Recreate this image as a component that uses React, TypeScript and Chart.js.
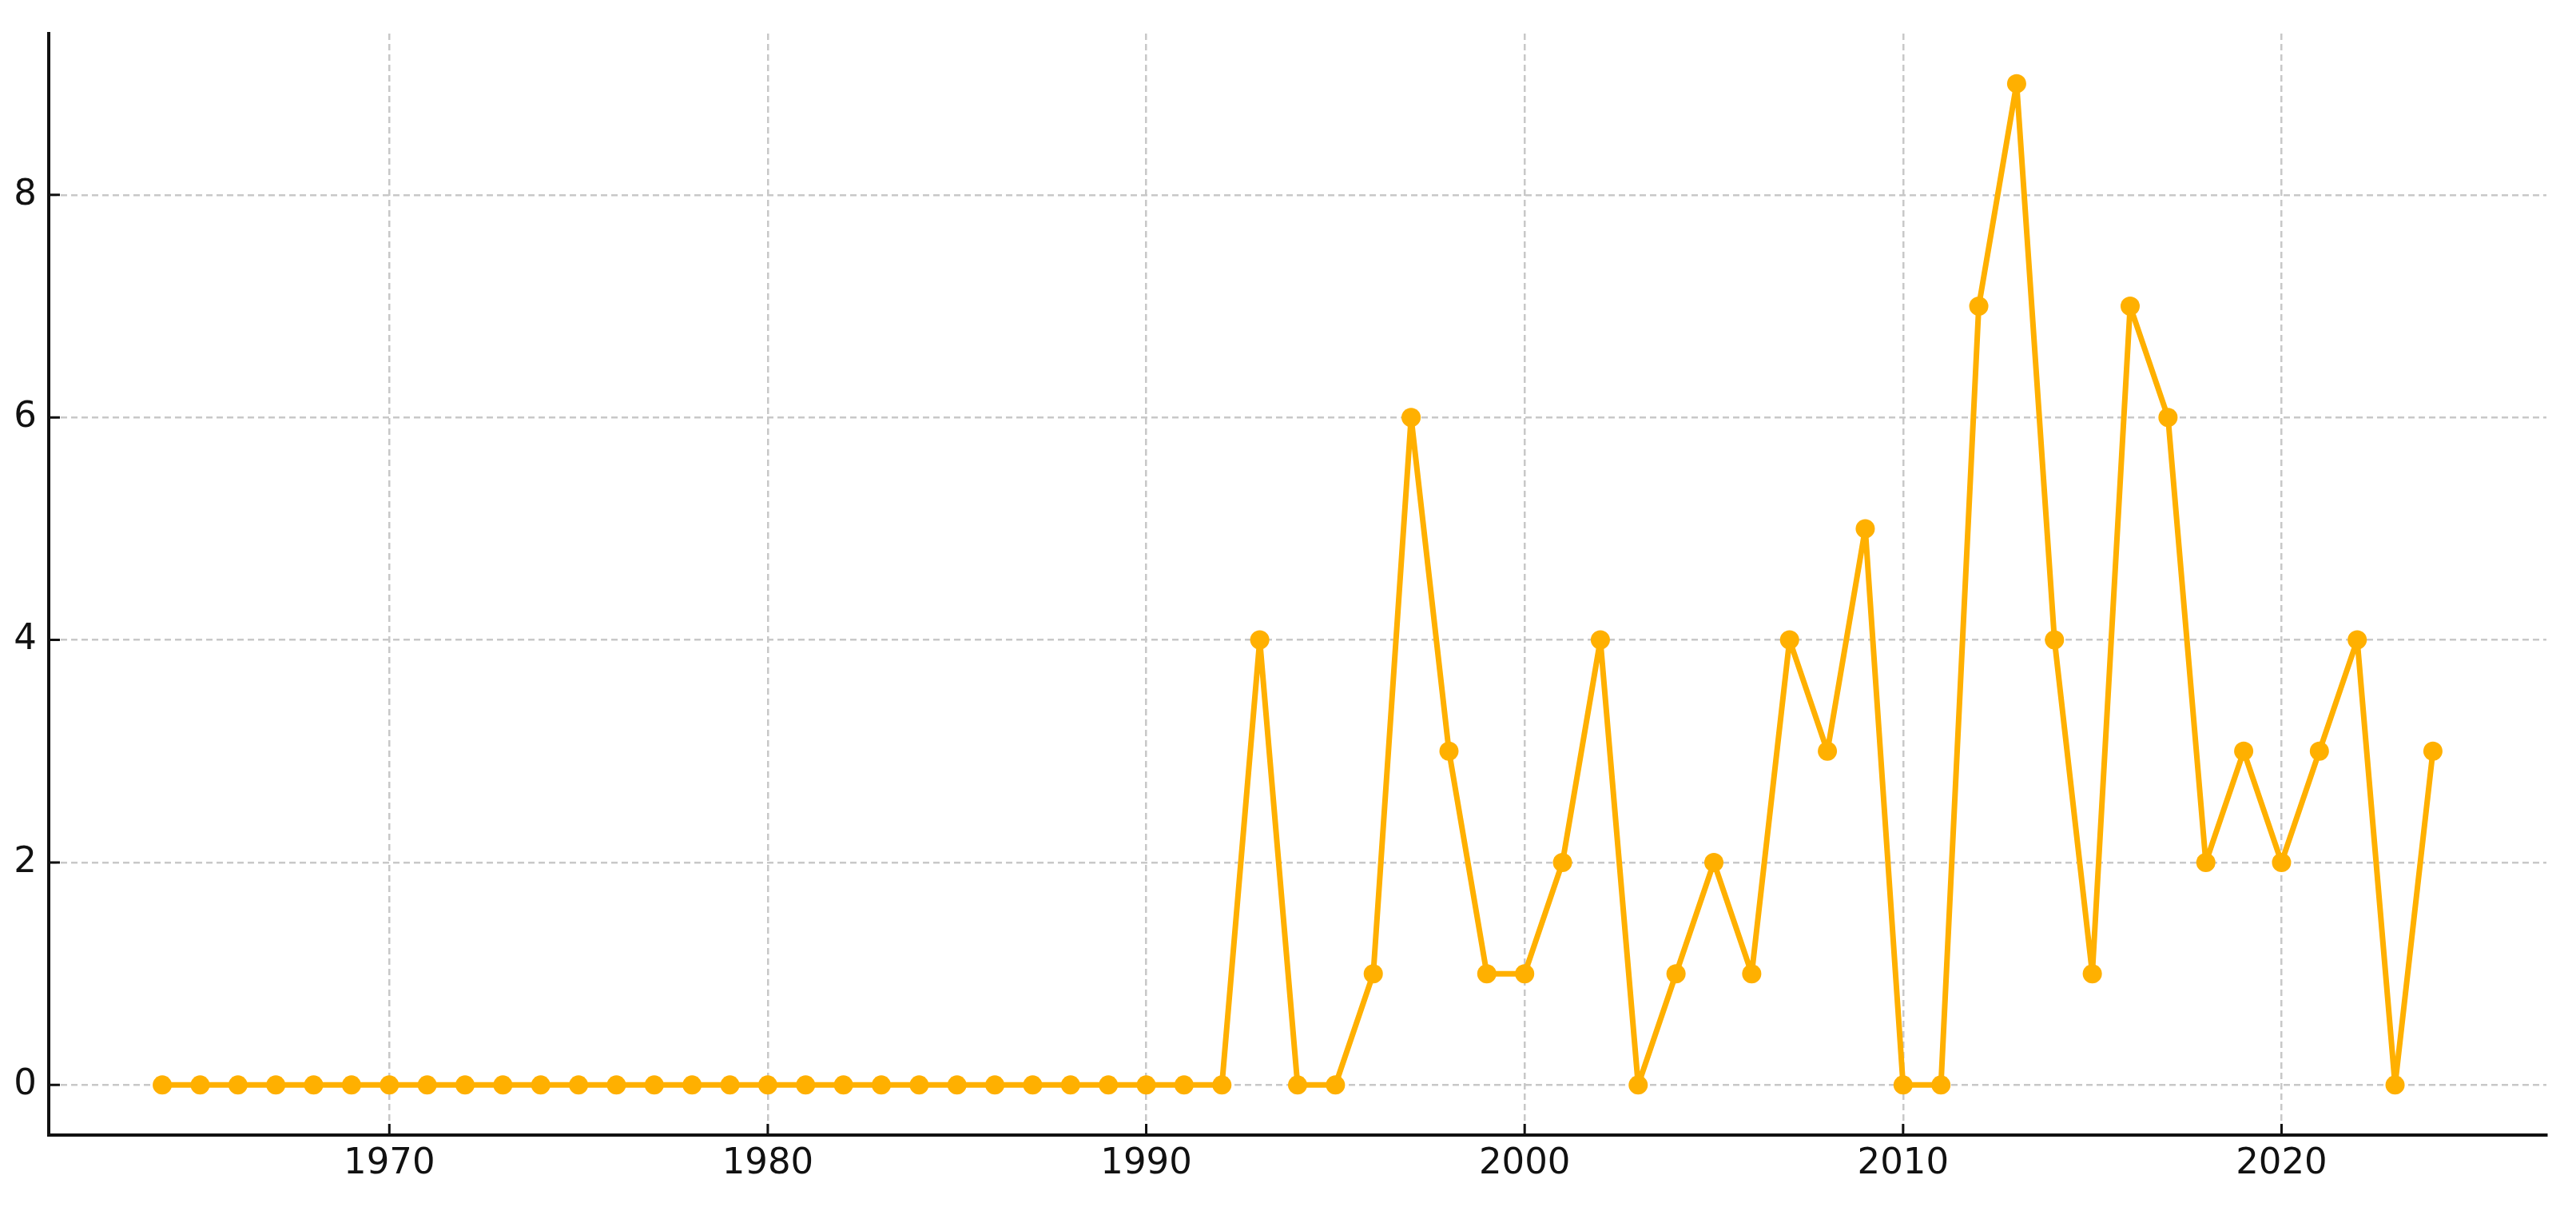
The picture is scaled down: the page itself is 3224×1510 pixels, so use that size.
import React, { useEffect, useRef } from 'react';
import { Chart, registerables } from 'chart.js';

Chart.register(...registerables);

const years = [
  1964, 1965, 1966, 1967, 1968, 1969, 1970, 1971, 1972, 1973,
  1974, 1975, 1976, 1977, 1978, 1979, 1980, 1981, 1982, 1983,
  1984, 1985, 1986, 1987, 1988, 1989, 1990, 1991, 1992, 1993,
  1994, 1995, 1996, 1997, 1998, 1999, 2000, 2001, 2002, 2003,
  2004, 2005, 2006, 2007, 2008, 2009, 2010, 2011, 2012, 2013,
  2014, 2015, 2016, 2017, 2018, 2019, 2020, 2021, 2022, 2023,
  2024,
];

const counts = [
  0, 0, 0, 0, 0, 0, 0, 0, 0, 0,
  0, 0, 0, 0, 0, 0, 0, 0, 0, 0,
  0, 0, 0, 0, 0, 0, 0, 0, 0, 4,
  0, 0, 1, 6, 3, 1, 1, 2, 4, 0,
  1, 2, 1, 4, 3, 5, 0, 0, 7, 9,
  4, 1, 7, 6, 2, 3, 2, 3, 4, 0,
  3,
];

const xTicks = [1970, 1980, 1990, 2000, 2010, 2020];
const yTicks = [0, 2, 4, 6, 8];

const LINE_COLOR = '#FFB000';
const GRID_COLOR = '#c8c8c8';
const TEXT_COLOR = '#111111';

const inwardTicks = {
  id: 'inwardTicks',
  afterDraw(chart: any) {
    const { ctx, chartArea, scales } = chart;
    ctx.save();
    ctx.strokeStyle = '#111';
    ctx.lineWidth = 3;
    ctx.beginPath();
    for (const t of scales.x.ticks) {
      const px = scales.x.getPixelForValue(t.value);
      ctx.moveTo(px, chartArea.bottom);
      ctx.lineTo(px, chartArea.bottom - 14);
    }
    for (const t of scales.y.ticks) {
      const py = scales.y.getPixelForValue(t.value);
      ctx.moveTo(chartArea.left, py);
      ctx.lineTo(chartArea.left + 14, py);
    }
    ctx.stroke();
    ctx.restore();
  },
};

export default function App() {
  const ref = useRef<HTMLCanvasElement | null>(null);

  useEffect(() => {
    document.body.style.margin = '0';
    document.body.style.overflow = 'hidden';
    const canvas = ref.current;
    if (!canvas) return;
    const chart = new Chart(canvas, {
      type: 'line',
      data: {
        datasets: [
          {
            data: years.map((y, i) => ({ x: y, y: counts[i] })),
            borderColor: LINE_COLOR,
            backgroundColor: LINE_COLOR,
            borderWidth: 7,
            borderJoinStyle: 'round',
            borderCapStyle: 'round',
            pointRadius: 12,
            pointBorderWidth: 0,
            pointBackgroundColor: LINE_COLOR,
            tension: 0,
            fill: false,
          },
        ],
      },
      plugins: [inwardTicks],
      options: {
        animation: false,
        responsive: false,
        devicePixelRatio: 1,
        layout: { padding: { top: 40, right: 37, left: 0, bottom: 0 } },
        plugins: {
          legend: { display: false },
          tooltip: { enabled: false },
        },
        scales: {
          x: {
            type: 'linear',
            min: 1961,
            max: 2027,
            afterBuildTicks: (scale: any) => {
              scale.ticks = xTicks.map((v) => ({ value: v }));
            },
            afterFit: (scale: any) => {
              scale.height = 90;
            },
            grid: {
              color: GRID_COLOR,
              lineWidth: 2.5,
              drawTicks: false,
            },
            border: {
              display: true,
              color: '#111',
              width: 4,
              dash: [8, 5],
            },
            ticks: {
              color: TEXT_COLOR,
              padding: 9,
              maxRotation: 0,
              autoSkip: false,
              font: { family: 'DejaVu Sans', size: 45 },
              callback: (v: any) => String(v),
            },
          },
          y: {
            type: 'linear',
            min: -0.45,
            max: 9.45,
            afterBuildTicks: (scale: any) => {
              scale.ticks = yTicks.map((v) => ({ value: v }));
            },
            afterFit: (scale: any) => {
              scale.width = 61;
            },
            grid: {
              color: GRID_COLOR,
              lineWidth: 2.5,
              drawTicks: false,
            },
            border: {
              display: true,
              color: '#111',
              width: 4,
              dash: [8, 5],
            },
            ticks: {
              color: TEXT_COLOR,
              padding: 15,
              autoSkip: false,
              font: { family: 'DejaVu Sans', size: 45 },
              callback: (v: any) => String(v),
            },
          },
        },
      },
    } as any);
    return () => chart.destroy();
  }, []);

  return (
    <div style={{ width: 3224, height: 1510, background: '#fff' }}>
      <canvas
        ref={ref}
        width={3224}
        height={1510}
        style={{ width: 3224, height: 1510, display: 'block' }}
      />
    </div>
  );
}
